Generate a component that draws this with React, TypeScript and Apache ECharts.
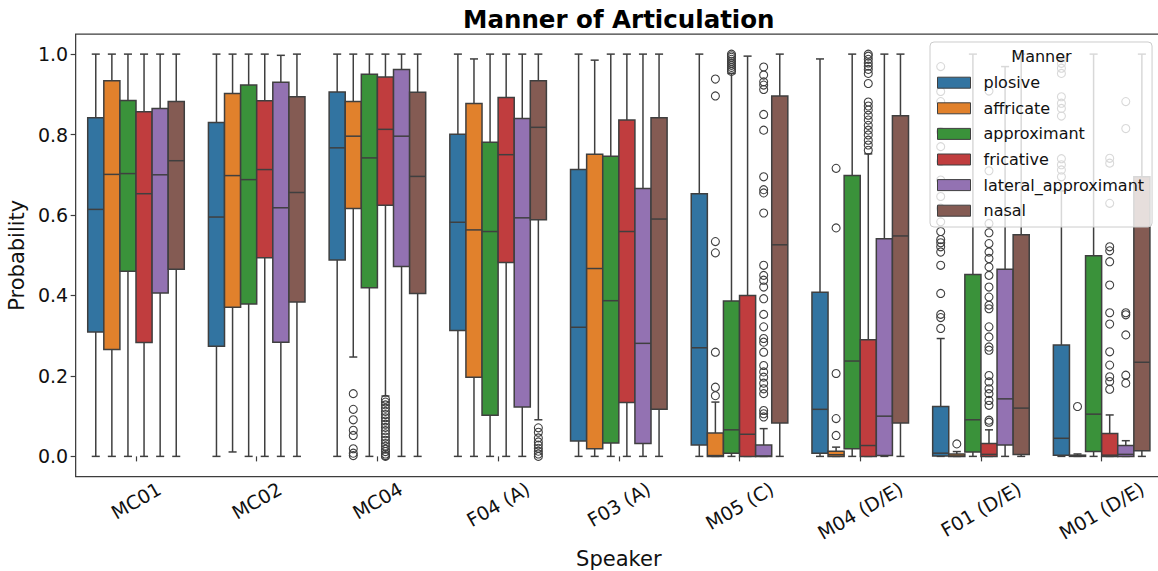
import { useEffect, useRef } from "react";
import * as echarts from "echarts";

const speakers = ["MC01", "MC02", "MC04", "F04 (A)", "F03 (A)", "M05 (C)", "M04 (D/E)", "F01 (D/E)", "M01 (D/E)"];
const manners = ["plosive", "affricate", "approximant", "fricative", "lateral_approximant", "nasal"];
const mannerColors = ["#3274a1", "#e1812c", "#3a923a", "#c03d3e", "#9372b2", "#845b53"];
const yTicks = [0, 0.2, 0.4, 0.6, 0.8, 1.0];

// per speaker: [lower whisker, Q1, median, Q3, upper whisker]
const plosiveBoxes = [
  [0, 0.309, 0.614, 0.842, 1.0],
  [0, 0.274, 0.595, 0.83, 1.0],
  [0, 0.488, 0.767, 0.906, 1.0],
  [0, 0.313, 0.582, 0.801, 1.0],
  [0, 0.038, 0.321, 0.713, 1.0],
  [0, 0.028, 0.27, 0.653, 1.0],
  [0, 0.008, 0.117, 0.408, 0.988],
  [0, 0.001, 0.008, 0.124, 0.293],
  [0, 0.003, 0.045, 0.277, 0.66],
];
const affricateBoxes = [
  [0, 0.266, 0.701, 0.934, 1.0],
  [0.011, 0.371, 0.698, 0.902, 1.0],
  [0.247, 0.616, 0.796, 0.882, 1.0],
  [0, 0.197, 0.563, 0.877, 0.988],
  [0, 0.019, 0.467, 0.751, 0.985],
  [0, 0, 0.002, 0.058, 0.135],
  [0, 0, 0.004, 0.013, 0.023],
  [0, 0, 0.001, 0.006, 0.012],
  [0, 0, 0.001, 0.003, 0.006],
];
const approximantBoxes = [
  [0, 0.46, 0.703, 0.885, 1.0],
  [0, 0.379, 0.688, 0.923, 1.0],
  [0, 0.419, 0.742, 0.95, 1.0],
  [0, 0.102, 0.559, 0.781, 1.0],
  [0, 0.033, 0.387, 0.746, 1.0],
  [0, 0.008, 0.066, 0.386, 0.952],
  [0, 0.019, 0.237, 0.698, 1.0],
  [0, 0.011, 0.091, 0.452, 1.0],
  [0, 0.012, 0.105, 0.499, 1.0],
];
const fricativeBoxes = [
  [0, 0.283, 0.653, 0.857, 1.0],
  [0, 0.494, 0.713, 0.884, 1.0],
  [0.15, 0.624, 0.813, 0.943, 1.0],
  [0, 0.482, 0.75, 0.892, 1.0],
  [0, 0.134, 0.559, 0.836, 1.0],
  [0, 0, 0.055, 0.4, 0.995],
  [0, 0, 0.027, 0.29, 0.752],
  [0, 0, 0.005, 0.032, 0.066],
  [0, 0, 0.003, 0.057, 0.103],
];
const lateralBoxes = [
  [0, 0.406, 0.7, 0.865, 1.0],
  [0, 0.284, 0.618, 0.93, 0.997],
  [0, 0.472, 0.796, 0.962, 1.0],
  [0, 0.123, 0.593, 0.84, 1.0],
  [0, 0.032, 0.281, 0.666, 1.0],
  [0, 0, 0.001, 0.028, 0.069],
  [0, 0.002, 0.1, 0.541, 1.0],
  [0, 0.028, 0.143, 0.465, 0.969],
  [0, 0, 0.005, 0.027, 0.039],
];
const nasalBoxes = [
  [0, 0.465, 0.735, 0.882, 1.0],
  [0, 0.384, 0.656, 0.894, 1.0],
  [0, 0.405, 0.696, 0.905, 1.0],
  [0.091, 0.588, 0.818, 0.934, 1.0],
  [0, 0.117, 0.59, 0.842, 1.0],
  [0, 0.083, 0.526, 0.896, 1.0],
  [0, 0.083, 0.548, 0.847, 1.0],
  [0, 0.005, 0.12, 0.551, 1.0],
  [0, 0.014, 0.234, 0.695, 1.0],
];

// outliers per speaker
const plosiveOutliers = [
  [], [], [], [], [], [], [],
  [0.969, 0.907, 0.882, 0.807, 0.77, 0.733, 0.687, 0.646, 0.617, 0.583, 0.559, 0.539, 0.531, 0.521, 0.508, 0.475, 0.405, 0.353, 0.345, 0.318],
  [0.99, 0.977, 0.965, 0.952, 0.894, 0.878, 0.865, 0.846, 0.74, 0.725, 0.712, 0.695],
];
const affricateOutliers = [
  [], [],
  [0.156, 0.117, 0.091, 0.065, 0.052, 0.019, 0.008, 0.002],
  [], [],
  [0.938, 0.896, 0.534, 0.506, 0.259, 0.172, 0.151],
  [0.716, 0.568, 0.206, 0.094, 0.052],
  [0.031],
  [0.124],
];
const approximantOutliers = [
  [], [], [], [], [],
  [0.957, 0.962, 0.967, 0.972, 0.977, 0.982, 0.987, 0.992, 0.996, 1.0],
  [], [], [],
];
const fricativeOutliers = [
  [], [],
  [0.142, 0.135, 0.128, 0.12, 0.112, 0.104, 0.096, 0.088, 0.08, 0.072, 0.064, 0.056, 0.048, 0.04, 0.032, 0.025, 0.018, 0.012, 0.006, 0.002, 0],
  [], [], [],
  [1.0, 0.995, 0.987, 0.978, 0.97, 0.962, 0.952, 0.927, 0.881, 0.871, 0.861, 0.848, 0.836, 0.823, 0.811, 0.799, 0.786, 0.774, 0.761],
  [0.908, 0.71, 0.579, 0.556, 0.529, 0.508, 0.492, 0.471, 0.45, 0.421, 0.396, 0.376, 0.367, 0.322, 0.297, 0.272, 0.264, 0.201, 0.185, 0.168, 0.156, 0.139, 0.127, 0.09, 0.085],
  [0.741, 0.729, 0.629, 0.521, 0.511, 0.484, 0.426, 0.357, 0.329, 0.26, 0.227, 0.198, 0.186, 0.167],
];
const lateralOutliers = [
  [], [], [], [], [],
  [0.968, 0.948, 0.931, 0.923, 0.912, 0.85, 0.811, 0.695, 0.663, 0.655, 0.605, 0.475, 0.45, 0.438, 0.421, 0.392, 0.353, 0.322, 0.293, 0.284, 0.259, 0.226, 0.21, 0.197, 0.182, 0.168, 0.156, 0.114, 0.106, 0.098],
  [], [],
  [0.882, 0.815, 0.357, 0.352, 0.302, 0.202, 0.182],
];
const nasalOutliers = [
  [], [], [],
  [0.071, 0.06, 0.046, 0.036, 0.028, 0.02, 0.013, 0.006, 0.0],
  [], [], [], [], [],
];

const boxesByManner = [plosiveBoxes, affricateBoxes, approximantBoxes, fricativeBoxes, lateralBoxes, nasalBoxes];
const outliersByManner = [plosiveOutliers, affricateOutliers, approximantOutliers, fricativeOutliers, lateralOutliers, nasalOutliers];

const LINE = "#3f3f3f";
const FONT = "DejaVu Sans";
const TEXT = "#111111";
const TICK_FONT = 19;

function hueX(api: any, ci: number, k: number) {
  const center = api.coord([ci, 0])[0];
  const band = api.size([1, 0])[0];
  const w = (band * 0.8) / manners.length;
  return { x: center + (k - (manners.length - 1) / 2) * w, w };
}

function makeBoxRender(k: number) {
  return (_params: any, api: any) => {
    const ci = api.value(0);
    const { x, w } = hueX(api, ci, k);
    const yy = (d: number) => api.coord([ci, api.value(d)])[1];
    const lo = yy(1), q1 = yy(2), med = yy(3), q3 = yy(4), hi = yy(5);
    const half = w / 2;
    const cap = w / 4;
    const ls = { stroke: LINE, lineWidth: 1.5 };
    return {
      type: "group",
      children: [
        { type: "line", shape: { x1: x, y1: q1, x2: x, y2: lo }, style: ls },
        { type: "line", shape: { x1: x, y1: q3, x2: x, y2: hi }, style: ls },
        { type: "line", shape: { x1: x - cap, y1: lo, x2: x + cap, y2: lo }, style: ls },
        { type: "line", shape: { x1: x - cap, y1: hi, x2: x + cap, y2: hi }, style: ls },
        {
          type: "rect",
          shape: { x: x - half, y: q3, width: w, height: Math.max(q1 - q3, 0.5) },
          style: { fill: mannerColors[k], stroke: LINE, lineWidth: 1.5 },
        },
        { type: "line", shape: { x1: x - half, y1: med, x2: x + half, y2: med }, style: ls },
      ],
    };
  };
}

function outlierRender(_params: any, api: any) {
  const ci = api.value(0);
  const k = api.value(2);
  const { x } = hueX(api, ci, k);
  const y = api.coord([ci, api.value(1)])[1];
  return {
    type: "circle",
    shape: { cx: x, cy: y, r: 4 },
    style: { fill: "none", stroke: LINE, lineWidth: 1.1 },
  };
}

export default function App() {
  const ref = useRef<HTMLDivElement>(null);

  useEffect(() => {
    if (!ref.current) return;
    const chart = echarts.init(ref.current, null, { renderer: "svg" });

    // measure tick label widths to emulate centred rotated labels
    const ctx = document.createElement("canvas").getContext("2d");
    let widths = speakers.map((s) => s.length * 11);
    if (ctx) {
      ctx.font = `${TICK_FONT}px "${FONT}"`;
      widths = speakers.map((s) => ctx.measureText(s).width);
    }
    const wMin = Math.min(...widths);
    const rich: any = {};
    speakers.forEach((_s, i) => {
      const d = (widths[i] - wMin) / 4;
      rich["l" + i] = {
        fontSize: TICK_FONT,
        fontFamily: FONT,
        color: TEXT,
        padding: [1.732 * d, d, 0, 0],
      };
    });

    const boxSeries = manners.map((m, k) => ({
      type: "custom",
      name: m,
      itemStyle: { color: mannerColors[k] },
      data: boxesByManner[k].map((b, i) => [i, ...b]),
      encode: { x: 0, y: [1, 2, 3, 4, 5] },
      renderItem: makeBoxRender(k),
      z: 2,
    }));

    const outlierData: number[][] = [];
    outliersByManner.forEach((perSpeaker, k) => {
      perSpeaker.forEach((vals, i) => {
        vals.forEach((v) => outlierData.push([i, v, k]));
      });
    });

    const option: any = {
      animation: false,
      backgroundColor: "#ffffff",
      title: {
        text: "Manner of Articulation",
        left: 618.8,
        top: 6.5,
        padding: 0,
        textAlign: "center",
        textStyle: { fontFamily: FONT, fontSize: 24.5, fontWeight: "bold", color: "#000" },
      },
      grid: {
        left: 75.65,
        top: 34,
        right: -4,
        bottom: 94.5,
        containLabel: false,
        outerBoundsMode: "none",
        show: true,
        borderColor: "#3d3d3d",
        borderWidth: 1.25,
        backgroundColor: "transparent",
      },
      legend: {
        orient: "vertical",
        left: 930,
        top: 42,
        padding: [32.7, 8, 8.3, 7],
        itemWidth: 33,
        itemHeight: 11,
        itemGap: 9.6,
        backgroundColor: "rgba(255,255,255,0.8)",
        borderColor: "#cccccc",
        borderWidth: 1,
        borderRadius: 4,
        textStyle: { fontFamily: FONT, fontSize: 16, color: TEXT, lineHeight: 16, padding: [0, 0, 0, 8] },
        data: manners.map((m, k) => ({
          name: m,
          icon: "rect",
          itemStyle: { color: mannerColors[k], borderColor: LINE, borderWidth: 1 },
        })),
        selectedMode: false,
        z: 10,
      },
      graphic: [
        {
          type: "text",
          x: 1041.5,
          y: 56,
          z: 100,
          style: {
            text: "Manner",
            fontFamily: FONT,
            fontSize: 16,
            fill: TEXT,
            align: "center",
            verticalAlign: "middle",
            textAlign: "center",
            textVerticalAlign: "middle",
          },
        },
      ],
      xAxis: {
        type: "category",
        data: speakers,
        boundaryGap: true,
        name: "Speaker",
        nameLocation: "middle",
        nameGap: 61,
        nameTextStyle: { fontFamily: FONT, fontSize: 21, color: TEXT, verticalAlign: "top" },
        axisLine: { show: false },
        axisTick: { show: true, alignWithLabel: true, length: 5, lineStyle: { color: "#3d3d3d", width: 1.2 } },
        axisLabel: {
          interval: 0,
          rotate: 30,
          align: "center",
          verticalAlign: "middle",
          margin: 24,
          fontFamily: FONT,
          fontSize: TICK_FONT,
          color: TEXT,
          formatter: (value: string, index: number) => `{l${index}|${value}}`,
          rich,
        },
        splitLine: { show: false },
      },
      yAxis: {
        type: "value",
        min: -0.05,
        max: 1.05,
        name: "Probability",
        nameLocation: "middle",
        nameGap: 44,
        nameTextStyle: { fontFamily: FONT, fontSize: 21, color: TEXT },
        axisLine: { show: false },
        axisTick: { show: true, length: 5, customValues: yTicks, lineStyle: { color: "#3d3d3d", width: 1.2 } },
        axisLabel: {
          customValues: yTicks,
          margin: 7.5,
          fontFamily: FONT,
          fontSize: TICK_FONT,
          color: TEXT,
          formatter: (v: number) => v.toFixed(1),
        },
        splitLine: { show: false },
      },
      series: [
        ...boxSeries,
        {
          type: "custom",
          name: "outliers",
          data: outlierData,
          encode: { x: 0, y: 1 },
          renderItem: outlierRender,
          z: 3,
        },
      ],
    };

    chart.setOption(option);
    return () => chart.dispose();
  }, []);

  return (
    <div
      ref={ref}
      style={{ position: "fixed", left: 0, top: 0, width: 1158, height: 571, background: "#fff" }}
    />
  );
}
